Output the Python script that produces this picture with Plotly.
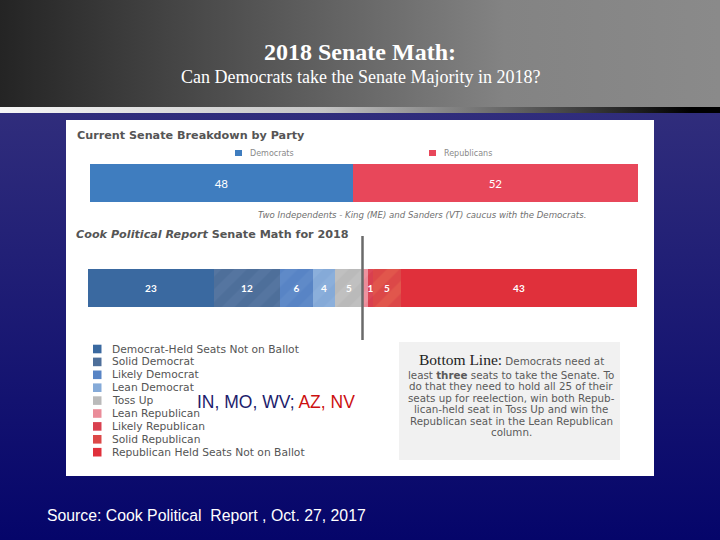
import plotly.graph_objects as go

W, H = 720, 540

# ---------------- data ----------------
party_names = ["Democrats", "Republicans"]
party_seats = [48, 52]
party_colors = ["#3f7dbf", "#e8475a"]

cat_names = [
    "Democrat-Held Seats Not on Ballot",
    "Solid Democrat",
    "Likely Democrat",
    "Lean Democrat",
    "Toss Up",
    "Lean Republican",
    "Likely Republican",
    "Solid Republican",
    "Republican Held Seats Not on Ballot",
]
cat_seats = [23, 12, 6, 4, 5, 1, 1, 5, 43]
cat_labels = ["23", "12", "6", "4", "5", "", "1", "5", "43"]
cat_colors = ["#3a69a0", "#4e6f9a", "#5884c5", "#85aad8", "#bababa",
              "#ea8c99", "#d9404f", "#dc4848", "#e0303b"]
cat_stripes = ["#3a69a0", "#5b7ba6", "#6690cc", "#92b4dd", "#c6c6c6",
               "#ef9aa6", "#e05060", "#e6634f", "#e0303b"]
majority = 50

bottom_line = [
    "<span style='font-family:Liberation Serif;font-size:15.5px;color:#222222'>Bottom Line:</span>"
    " Democrats need at",
    "least <b>three</b> seats to take the Senate. To",
    "do that they need to hold all 25 of their",
    "seats up for reelection, win both Repub-",
    "lican-held seat in Toss Up and win the",
    "Republican seat in the Lean Republican",
    "column.",
]

# ---------------- helpers ----------------
def px(x):
    return x / W


def py(y):
    return 1 - y / H


fig = go.Figure()


def rect(x0, y0, x1, y1, color=None, grad=None):
    kw = dict(x=[x0, x1, x1, x0, x0], y=[y0, y0, y1, y1, y0], fill="toself",
              mode="lines", line=dict(width=0), hoverinfo="skip",
              showlegend=False, xaxis="x", yaxis="y")
    if grad is not None:
        kw["fillgradient"] = grad
    else:
        kw["fillcolor"] = color
    fig.add_trace(go.Scatter(**kw))


# background slide
rect(0, 112, 720, 540, grad=dict(type="vertical", start=112, stop=540,
                                 colorscale=[[0, "#302d7c"], [1, "#05056a"]]))
rect(0, 0, 720, 107, grad=dict(type="horizontal", start=0, stop=720,
                               colorscale=[[0, "#242424"], [0.7, "#838383"], [1, "#8a8a8a"]]))
rect(0, 107, 720, 113, grad=dict(type="horizontal", start=0, stop=720,
                                 colorscale=[[0, "#f6f6f6"], [0.45, "#c4c4c4"],
                                             [0.72, "#606060"], [0.96, "#000000"], [1, "#000000"]]))
# white panel and bottom-line box
rect(66, 120, 654, 476, color="#ffffff")
rect(399, 342, 620, 460, color="#f1f1f1")

# ---------------- bar 1: current senate ----------------
for name, val, col in zip(party_names, party_seats, party_colors):
    fig.add_trace(go.Bar(
        x=[val], y=[0], orientation="h", name=name, width=1,
        marker=dict(color=col, line=dict(width=0)),
        text=[str(val)], textposition="inside", insidetextanchor="middle",
        constraintext="none",
        textfont=dict(color="white", size=11.5, family="Lato"),
        xaxis="x2", yaxis="y2", showlegend=False, hoverinfo="x+name"))

# ---------------- bar 2: Cook senate math ----------------
for name, val, lab, col, st in zip(cat_names, cat_seats, cat_labels, cat_colors, cat_stripes):
    pat = dict(shape="/", bgcolor=col, fgcolor=st, size=18, solidity=0.5) if st != col else None
    m = dict(color=col, line=dict(width=0))
    if pat:
        m["pattern"] = pat
    fig.add_trace(go.Bar(
        x=[val], y=[0], orientation="h", name=name, width=1, marker=m,
        text=[lab], textposition="inside", insidetextanchor="middle",
        constraintext="none",
        textfont=dict(color="white", size=10, family="Lato", weight="bold"),
        xaxis="x3", yaxis="y3", showlegend=False, hoverinfo="x+name"))

ax_hidden = dict(visible=False, fixedrange=True, showgrid=False, zeroline=False)

fig.update_layout(
    width=W, height=H, margin=dict(l=0, r=0, t=0, b=0),
    paper_bgcolor="#05056a", plot_bgcolor="rgba(0,0,0,0)",
    barmode="stack", bargap=0, showlegend=False,
    xaxis=dict(domain=[0, 1], range=[0, 720], anchor="y", **ax_hidden),
    yaxis=dict(domain=[0, 1], range=[540, 0], anchor="x", **ax_hidden),
    xaxis2=dict(domain=[px(90), px(638)], range=[0, sum(party_seats)], anchor="y2", **ax_hidden),
    yaxis2=dict(domain=[py(202), py(164)], range=[-0.5, 0.5], anchor="x2", **ax_hidden),
    xaxis3=dict(domain=[px(88), px(637)], range=[0, sum(cat_seats)], anchor="y3", **ax_hidden),
    yaxis3=dict(domain=[py(307), py(269)], range=[-0.5, 0.5], anchor="x3", **ax_hidden),
)

# majority line
fig.add_shape(type="line", xref="x3", yref="paper", x0=majority, x1=majority,
              y0=py(236), y1=py(340), line=dict(color="#6a6a6a", width=2.5))

ann = []


def text(x, y, s, size, color, family="DejaVu Sans", xanchor="left", **kw):
    ann.append(dict(x=px(x), y=py(y), xref="paper", yref="paper", text=s,
                    showarrow=False, xanchor=xanchor, yanchor="middle",
                    font=dict(size=size, color=color, family=family), **kw))


# header
text(360, 52, "<b>2018 Senate Math:</b>", 24, "white", family="Liberation Serif", xanchor="center")
text(360, 77, "Can Democrats take the Senate Majority in 2018?", 18, "white",
     family="Liberation Serif", xanchor="center")

# panel titles
text(75, 135, "<b>Current Senate Breakdown by Party</b>", 11.2, "#555555")
text(74, 235, "<b><i>Cook Political Report</i> Senate Math for 2018</b>", 11.2, "#555555")
text(256, 215, "<i>Two Independents - King (ME) and Sanders (VT) caucus with the Democrats.</i>",
     8.6, "#707070")

# party legend
for name, col, x0 in zip(party_names, party_colors, [235, 429]):
    fig.add_shape(type="rect", xref="paper", yref="paper", x0=px(x0), x1=px(x0 + 7),
                  y0=py(156), y1=py(150), fillcolor=col, line=dict(width=0))
    text(x0 + 13, 153, name, 8.0, "#8a8a8a")

# category legend
for i, (name, col) in enumerate(zip(cat_names, cat_colors)):
    yc = 349 + i * 12.9
    fig.add_shape(type="rect", xref="paper", yref="paper", x0=px(93), x1=px(101.5),
                  y0=py(yc + 4.3), y1=py(yc - 4.3), fillcolor=col, line=dict(width=0))
    text(110, yc, name, 10.7, "#555555")

# overlay state text
text(195, 402, "<span style='color:#1c1c6c'>IN, MO, WV; </span><span style='color:#cc1010'>AZ, NV</span>",
     17.5, "#1c1c6c", family="Liberation Sans")

# bottom line box, one annotation per line
for i, line in enumerate(bottom_line):
    yl = 359 if i == 0 else 375 + (i - 1) * 11.4
    text(511, yl, line, 10.3, "#5a5a5a", xanchor="center")

# source
text(45, 515, "Source: Cook Political  Report , Oct. 27, 2017", 15.8, "white", family="Liberation Sans")

fig.update_layout(annotations=ann)
fig.write_html("out.html", post_script="document.body.style.margin='0px';",
               config={"displayModeBar": False})
